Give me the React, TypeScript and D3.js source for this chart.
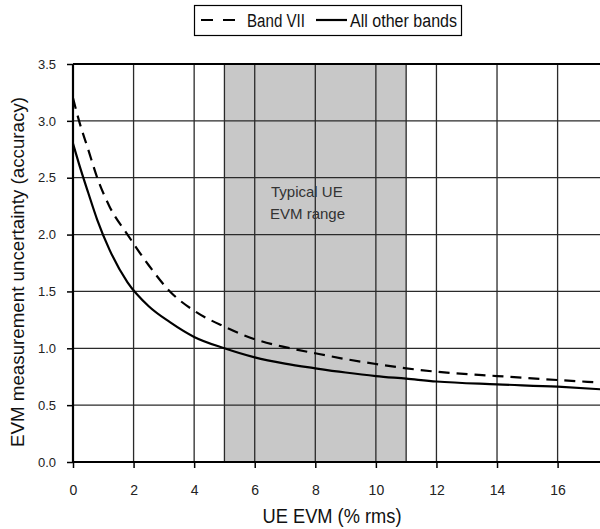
import { useEffect, useRef } from 'react';
import * as d3 from 'd3';

// data
const evm = [0, 0.2, 0.5, 0.8, 1.2, 1.8, 2.5, 3.2, 4, 5, 6, 7, 8, 9, 10, 11, 12, 14, 16, 17.5];
const bandVII = [3.2, 3.0, 2.75, 2.5, 2.25, 2.0, 1.73, 1.5, 1.33, 1.19, 1.08, 1.01, 0.956, 0.905, 0.862, 0.824, 0.794, 0.756, 0.721, 0.697];
const otherBands = [2.8, 2.62, 2.37, 2.13, 1.87, 1.58, 1.37, 1.23, 1.1, 1.0, 0.92, 0.865, 0.824, 0.787, 0.756, 0.733, 0.708, 0.683, 0.662, 0.638];
const xTicks = [0, 2, 4, 6, 8, 10, 12, 14, 16];
const yTicks = [0, 0.5, 1, 1.5, 2, 2.5, 3, 3.5];
const typicalRange = [5, 11];

const FONT = '"Liberation Sans Narrow", "Liberation Sans", Arial, sans-serif';

const App = () => {
  const ref = useRef<SVGSVGElement | null>(null);
  const width = 600;
  const height = 529;

  useEffect(() => {
    const svg = d3.select(ref.current);
    svg.selectAll('*').remove();

    const x = d3.scaleLinear().domain([0, 17.4]).range([73, 600]);
    const y = d3.scaleLinear().domain([0, 3.5]).range([462, 64]);

    // shaded typical range
    svg
      .append('rect')
      .attr('x', x(typicalRange[0]))
      .attr('y', y(3.5))
      .attr('width', x(typicalRange[1]) - x(typicalRange[0]))
      .attr('height', y(0) - y(3.5))
      .attr('fill', '#c8c8c8');

    // grid
    const grid = svg.append('g').attr('stroke', '#2a2a2a').attr('stroke-width', 1.3);
    grid
      .selectAll('line.v')
      .data([...xTicks.slice(1), ...typicalRange])
      .join('line')
      .attr('x1', d => x(d))
      .attr('x2', d => x(d))
      .attr('y1', y(3.5))
      .attr('y2', y(0));
    grid
      .selectAll('line.h')
      .data(yTicks.slice(1, -1))
      .join('line')
      .attr('x1', x(0))
      .attr('x2', width)
      .attr('y1', d => y(d))
      .attr('y2', d => y(d));

    // frame
    const frame = svg.append('g').attr('stroke', '#000').attr('stroke-width', 2.2);
    frame.append('line').attr('x1', x(0)).attr('x2', width).attr('y1', y(3.5)).attr('y2', y(3.5));
    frame.append('line').attr('x1', x(0)).attr('x2', width).attr('y1', y(0)).attr('y2', y(0));
    frame.append('line').attr('x1', x(0)).attr('x2', x(0)).attr('y1', y(3.5)).attr('y2', y(0));

    // axes
    const yAxis = svg
      .append('g')
      .attr('transform', `translate(${x(0)},0)`)
      .call(d3.axisLeft(y).tickValues(yTicks).tickFormat(d3.format('.1f')).tickSize(6).tickPadding(11));
    yAxis.select('.domain').remove();
    yAxis.selectAll('line').attr('stroke', '#000').attr('stroke-width', 1.5);
    yAxis.selectAll('text').attr('font-family', FONT).attr('font-size', 13).attr('fill', '#222');

    const xAxis = svg
      .append('g')
      .attr('transform', `translate(0,${y(0)})`)
      .call(d3.axisBottom(x).tickValues(xTicks).tickFormat(d3.format('d')).tickSize(6).tickPadding(17));
    xAxis.select('.domain').remove();
    xAxis.selectAll('line').attr('stroke', '#000').attr('stroke-width', 1.5);
    xAxis.selectAll('text').attr('font-family', FONT).attr('font-size', 14).attr('fill', '#222');

    // annotation
    const note = svg
      .append('text')
      .attr('font-family', FONT)
      .attr('font-size', 15)
      .attr('fill', '#333');
    note.append('tspan').attr('x', 271).attr('y', 197).text('Typical UE');
    note.append('tspan').attr('x', 270).attr('y', 219).text('EVM range');

    // curves
    const line = d3
      .line<number>()
      .x((_, i) => x(evm[i]))
      .y(d => y(d))
      .curve(d3.curveMonotoneX);

    svg
      .append('path')
      .datum(otherBands)
      .attr('fill', 'none')
      .attr('stroke', '#000')
      .attr('stroke-width', 2.2)
      .attr('d', line);

    svg
      .append('path')
      .datum(bandVII)
      .attr('fill', 'none')
      .attr('stroke', '#000')
      .attr('stroke-width', 2.2)
      .attr('stroke-dasharray', '11,7')
      .attr('d', line);

    // axis titles
    svg
      .append('text')
      .attr('transform', `translate(24,272) rotate(-90)`)
      .attr('text-anchor', 'middle')
      .attr('font-family', FONT)
      .attr('font-size', 19)
      .attr('fill', '#111')
      .attr('textLength', 350)
      .attr('lengthAdjust', 'spacingAndGlyphs')
      .text('EVM measurement uncertainty (accuracy)');

    svg
      .append('text')
      .attr('x', 332)
      .attr('y', 523)
      .attr('text-anchor', 'middle')
      .attr('font-family', FONT)
      .attr('font-size', 20)
      .attr('fill', '#111')
      .attr('textLength', 139)
      .attr('lengthAdjust', 'spacingAndGlyphs')
      .text('UE EVM (% rms)');

    // legend
    const legend = svg.append('g');
    legend
      .append('rect')
      .attr('x', 194.5)
      .attr('y', 5.5)
      .attr('width', 267)
      .attr('height', 30)
      .attr('fill', '#fff')
      .attr('stroke', '#000')
      .attr('stroke-width', 1.2);
    legend
      .append('line')
      .attr('x1', 201)
      .attr('x2', 237)
      .attr('y1', 20)
      .attr('y2', 20)
      .attr('stroke', '#000')
      .attr('stroke-width', 2.2)
      .attr('stroke-dasharray', '12,10');
    legend
      .append('text')
      .attr('x', 247)
      .attr('y', 26.5)
      .attr('font-family', FONT)
      .attr('font-size', 18)
      .attr('fill', '#111')
      .attr('textLength', 58)
      .attr('lengthAdjust', 'spacingAndGlyphs')
      .text('Band VII');
    legend
      .append('line')
      .attr('x1', 316)
      .attr('x2', 347)
      .attr('y1', 20)
      .attr('y2', 20)
      .attr('stroke', '#000')
      .attr('stroke-width', 2.2);
    legend
      .append('text')
      .attr('x', 350)
      .attr('y', 26.5)
      .attr('font-family', FONT)
      .attr('font-size', 18)
      .attr('fill', '#111')
      .attr('textLength', 107)
      .attr('lengthAdjust', 'spacingAndGlyphs')
      .text('All other bands');
  }, []);

  return (
    <svg
      ref={ref}
      width={width}
      height={height}
      style={{ position: 'absolute', left: 0, top: 0, background: '#fff' }}
    ></svg>
  );
};

export default App;
